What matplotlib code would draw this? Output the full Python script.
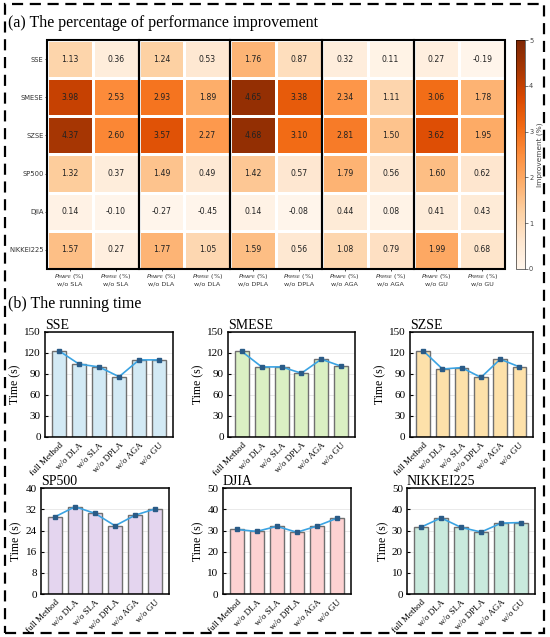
import numpy as np
from matplotlib import pyplot as plt
from matplotlib.patches import Rectangle

# ---- heatmap data ----
datasets = ["SSE", "SMESE", "SZSE", "SP500", "DJIA", "NIKKEI225"]
variants = ["SLA", "DLA", "DPLA", "AGA", "GU"]
improve = np.array([
    [1.13, 0.36, 1.24, 0.53, 1.76, 0.87, 0.32, 0.11, 0.27, -0.19],
    [3.98, 2.53, 2.93, 1.89, 4.65, 3.38, 2.34, 1.11, 3.06, 1.78],
    [4.37, 2.60, 3.57, 2.27, 4.68, 3.10, 2.81, 1.50, 3.62, 1.95],
    [1.32, 0.37, 1.49, 0.49, 1.42, 0.57, 1.79, 0.56, 1.60, 0.62],
    [0.14, -0.10, -0.27, -0.45, 0.14, -0.08, 0.44, 0.08, 0.41, 0.43],
    [1.57, 0.27, 1.77, 1.05, 1.59, 0.56, 1.08, 0.79, 1.99, 0.68],
])

# ---- running time data ----
methods = ["full Method", "w/o DLA", "w/o SLA", "w/o DPLA", "w/o AGA", "w/o GU"]
time_sse = [123, 104, 100, 86, 110, 110]
time_smese = [122, 100, 100, 91, 111, 101]
time_szse = [123, 97, 99, 85, 111, 100]
time_sp500 = [29.2, 33.0, 30.5, 25.8, 29.8, 32.2]
time_djia = [30.5, 29.6, 32.0, 29.2, 32.1, 35.8]
time_nikkei = [31.6, 36.0, 31.5, 29.3, 33.5, 33.8]

SERIF = "Liberation Serif"

fig = plt.figure(figsize=(5.5, 6.37), dpi=100)

# dashed frame around the whole figure
fig.add_artist(Rectangle((0.009, 0.006), 0.98, 0.988, transform=fig.transFigure,
                         fill=False, edgecolor="black", linewidth=1.6,
                         linestyle=(0, (5, 3))))

fig.text(0.014, 0.958, "(a) The percentage of performance improvement",
         family=SERIF, fontsize=11.5, va="baseline")
fig.text(0.014, 0.516, "(b) The running time",
         family=SERIF, fontsize=11.5, va="baseline")

# ---- (a) heatmap ----
ax = fig.add_axes([0.0855, 0.578, 0.833, 0.359])
cax = fig.add_axes([0.938, 0.578, 0.0164, 0.359])
nr, nc = improve.shape
mesh = ax.pcolormesh(np.arange(nc + 1), np.arange(nr + 1), improve, cmap="Oranges",
                     vmin=0, vmax=5, edgecolor="white", linewidth=1)
ax.set_xlim(0, nc)
ax.set_ylim(nr, 0)
for i in range(nr):
    for j in range(nc):
        ax.text(j + 0.5, i + 0.5, f"{improve[i, j]:.2f}", ha="center", va="center",
                fontsize=5.6, color="#222222")
for k in range(len(variants)):
    ax.add_patch(Rectangle((2 * k, 0), 2, nr, fill=False, edgecolor="black",
                           linewidth=1.5, zorder=5, clip_on=False))
xlabels = []
for v in variants:
    xlabels.append(r"$P_{\mathit{MAPE}}$ (%)" + "\nw/o " + v)
    xlabels.append(r"$P_{\mathit{RMSE}}$ (%)" + "\nw/o " + v)
ax.set_xticks(np.arange(nc) + 0.5)
ax.set_xticklabels(xlabels, fontsize=4.6, color="#333333", linespacing=1.1)
ax.set_yticks(np.arange(nr) + 0.5)
ax.set_yticklabels(datasets, fontsize=4.9, color="#333333")
ax.tick_params(length=1.5, width=0.5, pad=1)
for s in ax.spines.values():
    s.set_visible(False)

cb = fig.colorbar(mesh, cax=cax)
cb.set_ticks([0, 1, 2, 3, 4, 5])
cb.ax.tick_params(labelsize=4.8, length=2, width=0.5, pad=1, colors="#444444")
cb.set_label("Improvement (%)", fontsize=5.3, color="#444444", labelpad=2)
cb.outline.set_linewidth(0.4)

# ---- (b) running time bars ----
panels = [
    ("SSE", time_sse, "#d3eaf5", [0.0818, 0.314, 0.233, 0.165], 150, 30),
    ("SMESE", time_smese, "#daf0c3", [0.4145, 0.314, 0.231, 0.165], 150, 30),
    ("SZSE", time_szse, "#fde1aa", [0.745, 0.314, 0.224, 0.165], 150, 30),
    ("SP500", time_sp500, "#e4d5ef", [0.0745, 0.0675, 0.233, 0.166], 40, 8),
    ("DJIA", time_djia, "#fdd2d2", [0.405, 0.0675, 0.233, 0.166], 50, 10),
    ("NIKKEI225", time_nikkei, "#c9eadd", [0.74, 0.0675, 0.233, 0.166], 50, 10),
]
x = np.arange(len(methods))
for name, vals, color, pos, ymax, step in panels:
    bx = fig.add_axes(pos)
    bx.grid(axis="y", color="#e6e6e6", linewidth=0.6, zorder=0)
    bx.bar(x, vals, width=0.7, color=color, edgecolor="#707070", linewidth=1.0, zorder=2)
    bx.plot(x, vals, color="#3ba3e2", linewidth=1.2, marker="s", markersize=3.5,
            markerfacecolor="#2a5b87", markeredgecolor="#2a5b87", zorder=3)
    bx.set_xlim(-0.7, len(methods) - 0.3)
    bx.set_ylim(0, ymax)
    bx.set_yticks(np.arange(0, ymax + step / 2, step))
    bx.set_xticks(x)
    bx.set_xticklabels(methods, rotation=45, ha="right", rotation_mode="anchor",
                       family=SERIF, fontsize=6.5)
    for lab in bx.get_yticklabels():
        lab.set_family(SERIF)
        lab.set_fontsize(8)
    bx.tick_params(direction="in", length=2.5, width=0.8, pad=3)
    bx.tick_params(axis="x", length=0)
    bx.set_ylabel("Time (s)", family=SERIF, fontsize=8.5, labelpad=2)
    bx.set_title(name, loc="left", family=SERIF, fontsize=10, pad=1.5)
    for s in bx.spines.values():
        s.set_linewidth(1.1)

fig.savefig("out.png", dpi=100)
